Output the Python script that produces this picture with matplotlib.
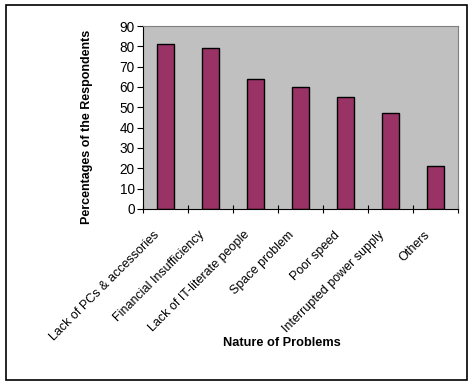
import matplotlib
matplotlib.use('Agg')
import matplotlib.pyplot as plt
from matplotlib.patches import Rectangle
from matplotlib.transforms import ScaledTranslation

categories = ['Lack of PCs & accessories', 'Financial Insufficiency',
              'Lack of IT-literate people', 'Space problem', 'Poor speed',
              'Interrupted power supply', 'Others']
values = [81, 79, 64, 60, 55, 47, 21]

plt.rcParams['font.family'] = ['Liberation Sans', 'DejaVu Sans']

W, H = 473, 385
fig = plt.figure(figsize=(W / 100, H / 100), dpi=100)
fig.patches.append(Rectangle((6 / W, 1 - 380 / H), (467 - 6) / W, (380 - 5) / H,
                             transform=fig.transFigure, fill=False,
                             edgecolor='black', linewidth=1.2))

ax = fig.add_axes([143 / W, 1 - 209 / H, (458 - 143) / W, (209 - 26) / H])
ax.set_facecolor('#C0C0C0')
x = list(range(len(categories)))
ax.bar(x, values, width=0.38, color='#993366', edgecolor='black', linewidth=1)

ax.set_xlim(-0.5, len(categories) - 0.5)
ax.set_ylim(0, 90)
ax.set_yticks(range(0, 91, 10))
ax.set_xticks([i - 0.5 for i in range(len(categories) + 1)])
ax.set_xticklabels([])
ax.tick_params(axis='x', direction='inout', length=6, width=0.8)
ax.tick_params(axis='y', direction='out', length=4, width=0.8, labelsize=9.8, pad=2)

# category labels, rotated and anchored at their top-right end
off = ScaledTranslation(-12 / 100, -20 / 100, fig.dpi_scale_trans)
for xi, name in zip(x, categories):
    ax.text(xi, 0, name, transform=ax.get_xaxis_transform() + off,
            rotation=45, ha='right', va='top', rotation_mode='anchor',
            fontsize=9, clip_on=False)

for s in ['top', 'right']:
    ax.spines[s].set_color('#808080')
for s in ['left', 'bottom']:
    ax.spines[s].set_color('black')

ax.set_ylabel('Percentages of the Respondents', fontsize=9, fontweight='bold')
ax.yaxis.set_label_coords(-0.159, 0.448)
ax.set_xlabel('Nature of Problems', fontsize=9.2, fontweight='bold')
ax.xaxis.set_label_coords(0.441, -0.70)

fig.savefig('out.png', dpi=100)
